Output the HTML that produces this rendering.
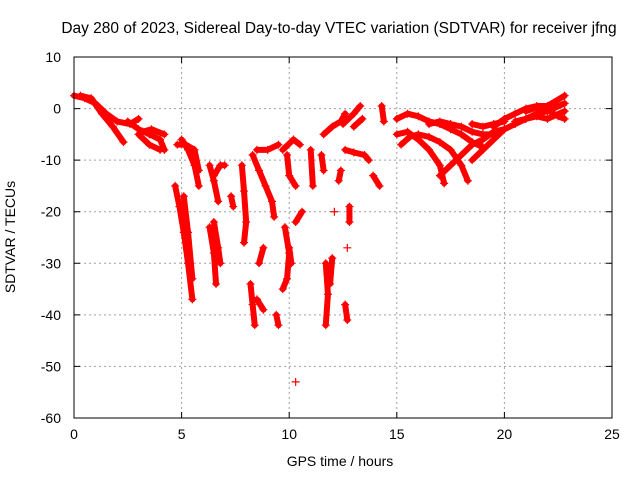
<!DOCTYPE html>
<html><head><meta charset="utf-8"><style>
body{margin:0;background:#fff}
svg{display:block;font-family:"Liberation Sans",sans-serif}
</style></head><body>
<svg id="chart" width="640" height="480">
<rect width="640" height="480" fill="#fff"/>
<g id="grid"></g>
<g id="marks"></g>
<rect x="74" y="57" width="538" height="361" fill="none" stroke="#000" stroke-width="1"/>
<g id="axes"></g>
<text x="339" y="33" font-size="15.5" text-anchor="middle">Day 280 of 2023, Sidereal Day-to-day VTEC variation (SDTVAR) for receiver jfng</text>
<text x="340" y="466" font-size="14" text-anchor="middle">GPS time / hours</text>
<text x="15" y="237" font-size="14" text-anchor="middle" transform="rotate(-90 15 237)">SDTVAR / TECUs</text>
</svg>
<script>
const xTicks=[0,5,10,15,20,25];
const yTicks=[10,0,-10,-20,-30,-40,-50,-60];
const tracks=[
[[0.3,2.5],[0.8,2],[1.3,-1],[1.8,-3.5],[2.3,-6.5]],
[[0,2.5],[0.5,2],[1,1],[1.5,-1],[2,-2.5],[2.6,-3],[3,-2]],
[[2.5,-2.5],[3,-4],[3.5,-5],[4,-6],[4.2,-8]],
[[3,-5],[3.5,-7],[4,-8]],
[[3.2,-4.5],[3.6,-4],[4.2,-5]],
[[4.7,-15],[4.9,-19],[5.1,-24],[5.3,-30],[5.5,-37]],
[[5.1,-17],[5.3,-24],[5.5,-33]],
[[5,-6],[5.3,-8],[5.6,-11],[5.8,-15]],
[[4.8,-7],[5.2,-7],[5.6,-8],[5.8,-12]],
[[6.3,-23],[6.5,-28],[6.6,-34]],
[[6.5,-22],[6.7,-27],[6.8,-30]],
[[6.3,-11],[6.5,-14],[6.7,-18]],
[[6.5,-13],[6.8,-11],[7,-11]],
[[7.3,-17],[7.4,-19]],
[[7.8,-11],[7.9,-16],[8,-22],[7.9,-26]],
[[8.2,-34],[8.3,-38],[8.4,-42]],
[[8.5,-37],[8.8,-39]],
[[8.3,-9],[8.6,-12],[8.9,-15],[9.2,-18],[9.3,-21]],
[[8.5,-8],[9,-8],[9.5,-7]],
[[8.6,-30],[8.8,-27]],
[[9.4,-40],[9.5,-42]],
[[9.8,-23],[10,-28],[9.9,-33],[9.7,-35]],
[[10,-27],[10.1,-30]],
[[10.3,-53]],
[[9.9,-9],[10,-13],[10.3,-15]],
[[9.7,-8],[10.2,-6],[10.5,-7]],
[[10.3,-22],[10.6,-20]],
[[11,-8],[11.1,-15]],
[[11.5,-9],[11.6,-12]],
[[11.7,-30],[11.8,-36],[11.7,-42]],
[[12,-29],[11.9,-34]],
[[12.6,-38],[12.7,-41]],
[[12.7,-27]],
[[12.8,-19],[12.8,-22]],
[[12.1,-20]],
[[12.3,-14],[12.4,-12]],
[[11.6,-5],[12,-3.5],[12.4,-2.5],[12.6,-1]],
[[12.5,-3],[13,-1],[13.3,0.5]],
[[13,-3.5],[13.4,-2]],
[[12.6,-8],[13,-8.5],[13.5,-9],[13.7,-10]],
[[13.9,-13],[14.2,-15]],
[[14.3,0.5],[14.4,-2.5]],
[[15,-2],[15.5,-1],[16,-1.5],[16.5,-2.5],[17,-3],[17.5,-4],[18,-5],[18.5,-6.5],[19,-7.5]],
[[15,-5],[15.5,-4.5],[16,-6],[16.5,-8],[17,-11],[17.2,-14.5]],
[[15.2,-7],[15.6,-5.5],[16,-5],[16.5,-5.5],[17,-6.5],[17.5,-8],[18,-11],[18.3,-14]],
[[16.5,-3],[17,-2.5],[17.5,-3],[18,-3.5],[18.5,-4.5],[19,-5],[19.5,-5]],
[[17,-13],[17.5,-11],[18,-9],[18.5,-7],[19,-6],[19.5,-4.5],[20,-4]],
[[18.5,-10],[19,-8],[19.5,-6],[20,-4],[20.5,-3],[21,-2],[21.5,-1.5],[22,-2],[22.8,-0.5]],
[[19.5,-3.5],[20,-2],[20.5,-1],[21,0],[21.5,0.5],[22,0.5],[22.8,2.5]],
[[20.5,-2.5],[21,-2],[21.5,-1],[22,-0.5],[22.8,1]],
[[21,-0.5],[21.5,0.2],[22,-0.3],[22.5,-1.5],[22.8,-2]],
[[18.5,-3],[19,-3.5],[19.5,-3],[20,-2.5]]
];
const NS='http://www.w3.org/2000/svg';
const L=74,R=612,T=57,B=418;
function xs(t){return L+(t-0)/25*(R-L);}
function ys(v){return T+(10-v)/70*(B-T);}
function mk(tag,attrs,parent){const e=document.createElementNS(NS,tag);for(const k in attrs)e.setAttribute(k,attrs[k]);parent.appendChild(e);return e;}
const grid=document.getElementById('grid'),axes=document.getElementById('axes'),marks=document.getElementById('marks');
xTicks.forEach(t=>{
  const x=xs(t);
  if(t>0&&t<25){const g=mk('line',{x1:x,x2:x,y1:T,y2:B,stroke:'#a0a0a0','stroke-dasharray':'2,3'},grid);
  
  }
  const tk=mk('path',{d:`M${x},${B}v-6M${x},${T}v6`,stroke:'#000'},axes);
  
  
  const lb=mk('text',{x:x,y:B+21,'font-size':14,'text-anchor':'middle'},axes);lb.textContent=t;
  
  
});
yTicks.forEach(v=>{
  const y=ys(v);
  if(v<10&&v>-60){const g=mk('line',{x1:L,x2:R,y1:y,y2:y,stroke:'#a0a0a0','stroke-dasharray':'2,3'},grid);
  
  }
  const tk=mk('path',{d:`M${L},${y}h6M${R},${y}h-6`,stroke:'#000'},axes);
  
  
  const lb=mk('text',{x:L-13,y:y+5,'font-size':14,'text-anchor':'end'},axes);lb.textContent=v;
  
  
});
tracks.forEach(tr=>{
  const g=mk('g',{},marks);
  
  
  if(tr.length>1){
    mk('polyline',{points:tr.map(p=>xs(p[0])+','+ys(p[1])).join(' '),fill:'none',stroke:'#f00','stroke-width':6,'stroke-linejoin':'round','stroke-linecap':'round'},g);
  }
  tr.forEach(p=>{
    const x=xs(p[0]),y=ys(p[1]);
    const m=mk('path',{d:`M${x-4},${y}h8M${x},${y-4}v8`,stroke:'#f00','stroke-width':1.2},g);
    
    
  });
});
</script>
</body></html>
